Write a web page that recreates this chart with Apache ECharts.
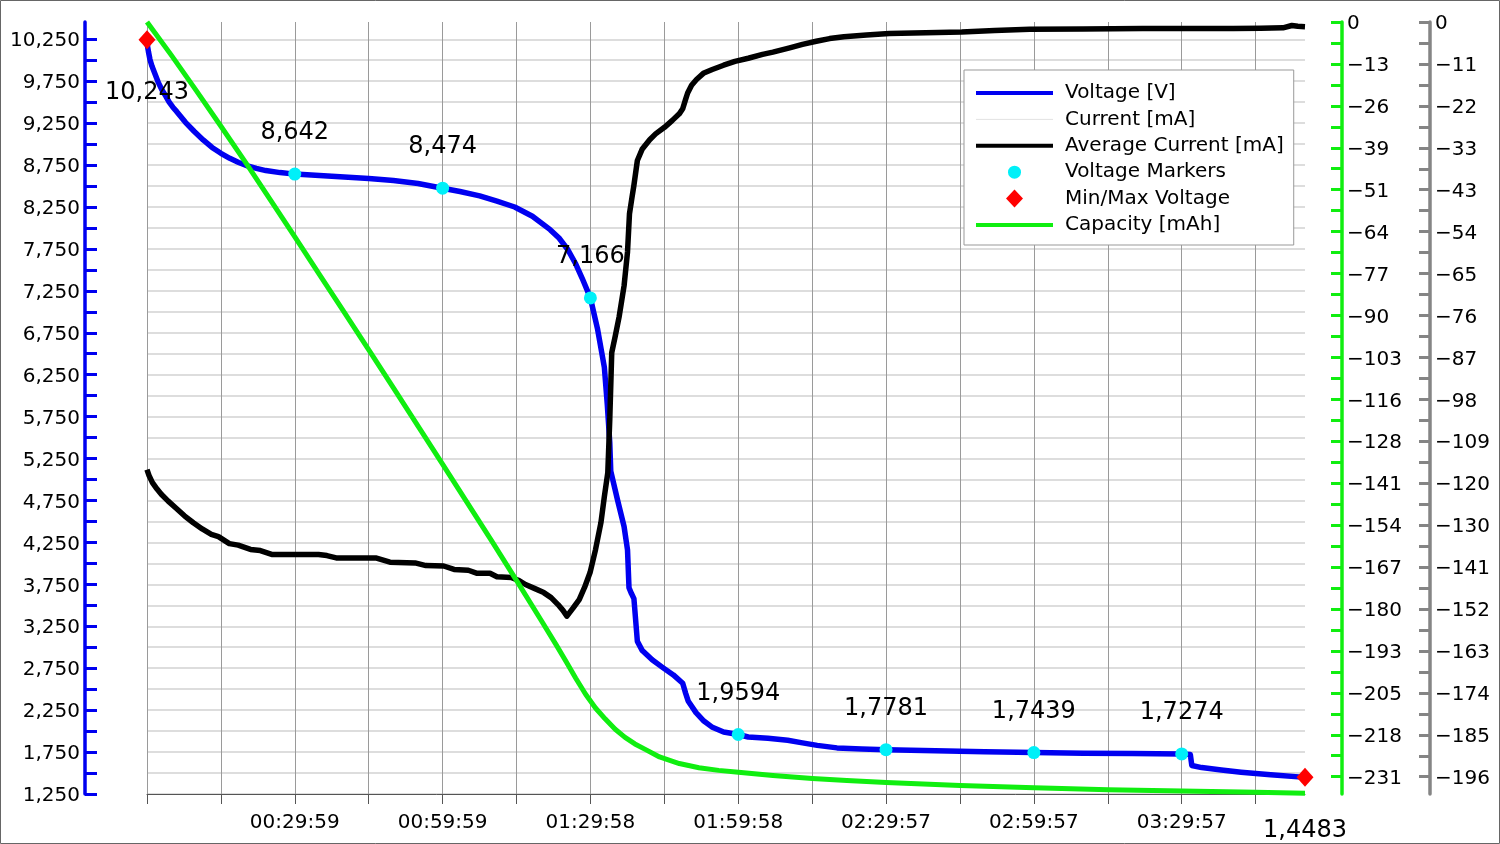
<!DOCTYPE html>
<html>
<head>
<meta charset="utf-8">
<script src="https://cdn.jsdelivr.net/npm/echarts@6/dist/echarts.min.js"></script>
<style>
  html, body { margin: 0; padding: 0; background: #fff; }
  #chart { width: 1500px; height: 844px; }
</style>
</head>
<body>
<div id="chart"></div>
<script>
// ---------------- DATA ----------------
// Voltage [V] (time in seconds)
const voltTimeS = [0, 6, 18, 36, 60, 80, 100, 140, 186, 230, 270, 315, 360, 468, 576, 684, 792, 900, 1008, 1116, 1224, 1332, 1446, 1620, 1799,
  2100, 2400, 2700, 3000, 3300, 3599, 3810, 4050, 4260, 4476, 4692, 4908, 5016, 5124, 5220, 5298, 5398,
  5484, 5568, 5604, 5634, 5646, 5730, 5808, 5850, 5868, 5898, 5928, 5970, 6030, 6150, 6276, 6408, 6522,
  6558, 6588, 6684, 6780, 6876, 7020, 7198, 7320, 7560, 7800, 7980, 8160, 8400, 8700, 8997, 9600, 10200,
  10797, 11400, 12000, 12597, 12702, 12720, 12840, 13080, 13320, 13680, 14098];
const voltValues = [10.243, 10.17, 10.10, 10.01, 9.93, 9.88, 9.83, 9.73, 9.64, 9.57, 9.50, 9.44, 9.39, 9.26, 9.15, 9.05, 8.96, 8.89, 8.83, 8.78, 8.74, 8.71, 8.684, 8.66, 8.642,
  8.625, 8.608, 8.59, 8.565, 8.53, 8.474, 8.435, 8.383, 8.32, 8.25, 8.14, 7.98, 7.88, 7.74, 7.57, 7.40, 7.166,
  6.80, 6.34, 5.89, 5.44, 5.10, 4.75, 4.44, 4.16, 3.71, 3.64, 3.58, 3.07, 2.96, 2.85, 2.76, 2.67, 2.57,
  2.45, 2.36, 2.22, 2.12, 2.05, 1.99, 1.9594, 1.93, 1.915, 1.89, 1.86, 1.83, 1.80, 1.787, 1.7781, 1.766, 1.755,
  1.7439, 1.737, 1.732, 1.7274, 1.72, 1.59, 1.565, 1.535, 1.51, 1.48, 1.4483];

// Current [mA] (raw, drawn very faint in the original; not readable)
const currentTimeS = [];
const currentValues = [];

// Average Current [mA]
const avgCurTimeS = [0, 24, 66, 120, 174, 258, 348, 456, 564, 672, 783, 870, 1002, 1110, 1260, 1380, 1518, 1800, 2088,
  2190, 2304, 2784, 2958, 3264, 3396, 3612, 3738, 3912, 4020, 4176, 4260, 4434, 4530, 4608, 4716, 4830, 4920,
  5004, 5064, 5112, 5184, 5262, 5328, 5394, 5460, 5526, 5568, 5610, 5634, 5658, 5700, 5748, 5808, 5850, 5874,
  5904, 5928, 5970, 6030, 6120, 6192, 6300, 6396, 6480, 6522, 6558, 6582, 6630, 6690, 6780, 6882, 7020, 7158,
  7320, 7494, 7620, 7824, 7980, 8148, 8310, 8484, 8760, 9036, 9480, 9918, 10320, 10746, 11400, 12120, 12720,
  13224, 13560, 13830, 13938, 14010, 14098];
const avgCurValues = [-116.0, -117.5, -119.4, -121.0, -122.4, -124.2, -125.9, -128.0, -129.8, -131.4, -132.8, -133.4, -135.2, -135.6, -136.7, -137.0, -138.0, -138.0, -138.0,
  -138.3, -138.9, -138.9, -140.0, -140.2, -140.9, -141.0, -141.9, -142.1, -142.9, -142.9, -143.8, -144.0, -144.8, -145.8, -146.8, -147.9, -149.2,
  -151.0, -152.5, -154.0, -152.0, -149.7, -146.5, -142.7, -136.8, -129.8, -123.0, -116.8, -103.0, -85.7, -81.5, -76.4, -68.4, -59.6, -49.7,
  -45.5, -42.3, -35.9, -32.9, -30.5, -29.0, -27.3, -25.5, -23.8, -22.5, -20.0, -18.4, -16.4, -14.9, -13.2, -12.3, -11.2, -10.2,
  -9.4, -8.4, -7.8, -6.7, -5.8, -5.0, -4.3, -3.8, -3.4, -3.0, -2.8, -2.6, -2.2, -1.9, -1.8, -1.7, -1.7,
  -1.7, -1.6, -1.5, -0.9, -1.1, -1.2];

// Voltage markers
const markerTimeS = [1799, 3599, 5398, 7198, 8997, 10797, 12597];
const markerValues = [8.642, 8.474, 7.166, 1.9594, 1.7781, 1.7439, 1.7274];

// Min / Max voltage
const minMaxTimeS = [0, 14098];
const minMaxValues = [10.243, 1.4483];

// Capacity [mAh]
const capTimeS = [0, 300, 600, 900, 1200, 1500, 1800, 2100, 2400, 2700, 3000, 3300, 3600, 3900, 4200, 4500, 4800, 4980,
  5100, 5220, 5340, 5460, 5580, 5700, 5820, 5940, 6060, 6240, 6480, 6720, 6960, 7200, 7620, 8100, 8520, 9000,
  9900, 10800, 11700, 12600, 13500, 14098];
const capValues = [0, -10.3, -21.0, -31.9, -43.0, -54.4, -65.8, -77.3, -88.8, -100.4, -112.0, -123.7, -135.4, -147.2, -159.0, -171.0, -183.2, -190.6,
  -195.7, -200.9, -205.8, -210.0, -213.4, -216.5, -219.0, -221.0, -222.6, -225.0, -227.0, -228.3, -229.1, -229.7, -230.7, -231.6, -232.2, -232.8,
  -233.7, -234.4, -235.0, -235.4, -235.8, -236.1];

// Axis tick labels
const xLabelSeconds = [1799, 3599, 5398, 7198, 8997, 10797, 12597];
const greenTickLabels = ['0', '\u221213', '\u221226', '\u221239', '\u221251', '\u221264', '\u221277', '\u221290', '\u2212103', '\u2212116',
  '\u2212128', '\u2212141', '\u2212154', '\u2212167', '\u2212180', '\u2212193', '\u2212205', '\u2212218', '\u2212231'];
const grayTickLabels = ['0', '\u221211', '\u221222', '\u221233', '\u221243', '\u221254', '\u221265', '\u221276', '\u221287', '\u221298',
  '\u2212109', '\u2212120', '\u2212130', '\u2212141', '\u2212152', '\u2212163', '\u2212174', '\u2212185', '\u2212196'];
const voltLabelStart = 1.25, voltLabelEnd = 10.25;

// ---------------- BUILD ----------------
const FONT = 'DejaVu Sans';
const zip = (a, b) => a.map((v, i) => [v, b[i]]);
const pad2 = n => String(n).padStart(2, '0');
const fmtTime = s => pad2(Math.floor(s / 3600)) + ':' + pad2(Math.floor((s % 3600) / 60)) + ':' + pad2(Math.round(s % 60));
const comma = v => String(v).replace('.', ',');

// x ticks: at every label and halfway between
const xTicks = [0];
xLabelSeconds.forEach((s, i) => {
  const prev = i === 0 ? 0 : xLabelSeconds[i - 1];
  xTicks.push(Math.round((prev + s) / 2), s);
});
xTicks.push(xLabelSeconds[xLabelSeconds.length - 1] + Math.round((xLabelSeconds[1] - xLabelSeconds[0]) / 2));

const blueTicks = [], blueLabels = [];
for (let k = 0; voltLabelStart + k * 0.25 <= voltLabelEnd + 1e-9; k++) {
  const v = +(voltLabelStart + k * 0.25).toFixed(3);
  blueTicks.push(v);
  if (k % 2 === 0) blueLabels.push(v);
}
const GREEN_STEP = 12.835, GRAY_STEP = 10.868;
const greenLabelVals = greenTickLabels.map((_, i) => -i * GREEN_STEP);
const grayLabelVals = grayTickLabels.map((_, i) => -i * GRAY_STEP);
const halfTicks = (step, n) => { const r = []; for (let i = 0; i <= 2 * (n - 1); i++) r.push(-i * step / 2); return r; };

const BLUE = '#0000f0', GREEN = '#10ee10', GRAY = '#858585', CYAN = '#00f0f8', RED = '#ff0000';
const LW = 5.5;

// y-axis label: shifted 2px down (verticalAlign top + negative padding)
const axisLabelStyle = { color: '#000', fontSize: 20, fontFamily: FONT, margin: 5, verticalAlign: 'top', lineHeight: 20, padding: [-8, 0, 0, 0] };
const markLabel = { show: true, color: '#000', fontSize: 24, lineHeight: 24, fontFamily: FONT, textBorderWidth: 0 };

// legend icons (bounding box 77x18 so shapes are not stretched)
const ICON_CIRCLE = 'path://M0,0L0,0M77,18L77,18M32,9A6.5,6.5,0,1,0,45,9A6.5,6.5,0,1,0,32,9Z';
const ICON_DIAMOND = 'path://M0,0L0,0M77,18L77,18M38.5,0L47,9L38.5,18L30,9Z';

const chart = echarts.init(document.getElementById('chart'), null, { renderer: 'canvas' });
chart.setOption({
  animation: false,
  backgroundColor: '#fff',
  textStyle: { fontFamily: FONT },
  grid: { left: 147, right: 195, top: 22, bottom: 50, containLabel: false },
  graphic: [{
    type: 'rect', silent: true, z: 100,
    shape: { x: 0.5, y: 0.5, width: 1499, height: 843 },
    style: { fill: 'none', stroke: '#666', lineWidth: 1 }
  }],
  legend: {
    orient: 'vertical', left: 964, top: 70,
    padding: [13, 10, 10, 10],
    itemWidth: 77, itemHeight: 18, itemGap: 6.4,
    backgroundColor: '#fff', borderColor: '#999', borderWidth: 1,
    textStyle: { fontSize: 20, color: '#000', fontFamily: FONT, padding: [0, 0, 0, 7] },
    data: [
      { name: 'Voltage [V]', itemStyle: { opacity: 0 }, lineStyle: { width: 4, color: BLUE } },
      { name: 'Current [mA]', itemStyle: { opacity: 0 }, lineStyle: { width: 1, color: '#e2e2e2' } },
      { name: 'Average Current [mA]', itemStyle: { opacity: 0 }, lineStyle: { width: 4, color: '#000' } },
      { name: 'Voltage Markers', icon: ICON_CIRCLE, itemStyle: { color: CYAN, opacity: 1 } },
      { name: 'Min/Max Voltage', icon: ICON_DIAMOND, itemStyle: { color: RED, opacity: 1 } },
      { name: 'Capacity [mAh]', itemStyle: { opacity: 0 }, lineStyle: { width: 4, color: GREEN } }
    ]
  },
  xAxis: {
    type: 'value', min: 0, max: minMaxTimeS[1],
    axisLine: { show: true, onZero: false, lineStyle: { color: '#555', width: 1 } },
    axisTick: { show: true, length: 10, customValues: xTicks, lineStyle: { color: '#555', width: 1 } },
    axisLabel: { customValues: xLabelSeconds, formatter: v => fmtTime(v), color: '#000', fontSize: 20, fontFamily: FONT, margin: 19 },
    splitLine: { show: true, lineStyle: { color: '#9a9a9a', width: 1 } }
  },
  yAxis: [{
    type: 'value', position: 'left', offset: 62, min: 1.25, max: 10.456,
    axisLine: { show: true, onZero: false, lineStyle: { color: BLUE, width: 3.5 } },
    axisTick: { show: true, inside: true, length: 12, customValues: blueTicks, lineStyle: { color: BLUE, width: 3 } },
    axisLabel: Object.assign({ customValues: blueLabels, formatter: v => v.toFixed(3).replace('.', ',') }, axisLabelStyle),
    splitLine: { show: true, lineStyle: { color: '#d2d2d2', width: 1.5 } }
  }, {
    type: 'value', position: 'right', offset: 37, min: -236.33, max: 0,
    axisLine: { show: true, onZero: false, lineStyle: { color: GREEN, width: 3.5 } },
    axisTick: { show: true, inside: true, length: 11, customValues: halfTicks(GREEN_STEP, greenTickLabels.length), lineStyle: { color: GREEN, width: 3 } },
    axisLabel: Object.assign({ customValues: greenLabelVals, formatter: v => greenTickLabels[Math.round(-v / GREEN_STEP)] }, axisLabelStyle),
    splitLine: { show: false }
  }, {
    type: 'value', position: 'right', offset: 125, min: -200.1, max: 0,
    axisLine: { show: true, onZero: false, lineStyle: { color: GRAY, width: 3.5 } },
    axisTick: { show: true, inside: true, length: 11, customValues: halfTicks(GRAY_STEP, grayTickLabels.length), lineStyle: { color: GRAY, width: 3 } },
    axisLabel: Object.assign({ customValues: grayLabelVals, formatter: v => grayTickLabels[Math.round(-v / GRAY_STEP)] }, axisLabelStyle),
    splitLine: { show: false }
  }],
  series: [{
    name: 'Voltage [V]', type: 'line', yAxisIndex: 0, z: 2,
    data: zip(voltTimeS, voltValues), symbol: 'none',
    itemStyle: { color: BLUE }, lineStyle: { color: BLUE, width: LW, join: 'round' }
  }, {
    name: 'Current [mA]', type: 'line', yAxisIndex: 2, z: 1,
    data: zip(currentTimeS, currentValues), symbol: 'none',
    itemStyle: { color: '#e2e2e2' }, lineStyle: { color: '#e2e2e2', width: 1 }
  }, {
    name: 'Average Current [mA]', type: 'line', yAxisIndex: 2, z: 2,
    data: zip(avgCurTimeS, avgCurValues), symbol: 'none',
    itemStyle: { color: '#000' }, lineStyle: { color: '#000', width: LW, join: 'round' }
  }, {
    name: 'Voltage Markers', type: 'scatter', yAxisIndex: 0, z: 5,
    data: zip(markerTimeS, markerValues), symbol: 'circle', symbolSize: 13,
    itemStyle: { color: CYAN, opacity: 1 },
    label: Object.assign({ position: 'inside', offset: [0, -41], formatter: p => comma(p.value[1]) }, markLabel)
  }, {
    name: 'Min/Max Voltage', type: 'scatter', yAxisIndex: 0, z: 6, clip: false,
    data: zip(minMaxTimeS, minMaxValues), symbol: 'diamond', symbolSize: [17, 19],
    itemStyle: { color: RED, opacity: 1 },
    label: Object.assign({ position: 'inside', offset: [0, 53], formatter: p => comma(p.value[1]) }, markLabel)
  }, {
    name: 'Capacity [mAh]', type: 'line', yAxisIndex: 1, z: 3,
    data: zip(capTimeS, capValues), symbol: 'none',
    itemStyle: { color: GREEN }, lineStyle: { color: GREEN, width: LW - 0.5, join: 'round' }
  }]
});
</script>
</body>
</html>
